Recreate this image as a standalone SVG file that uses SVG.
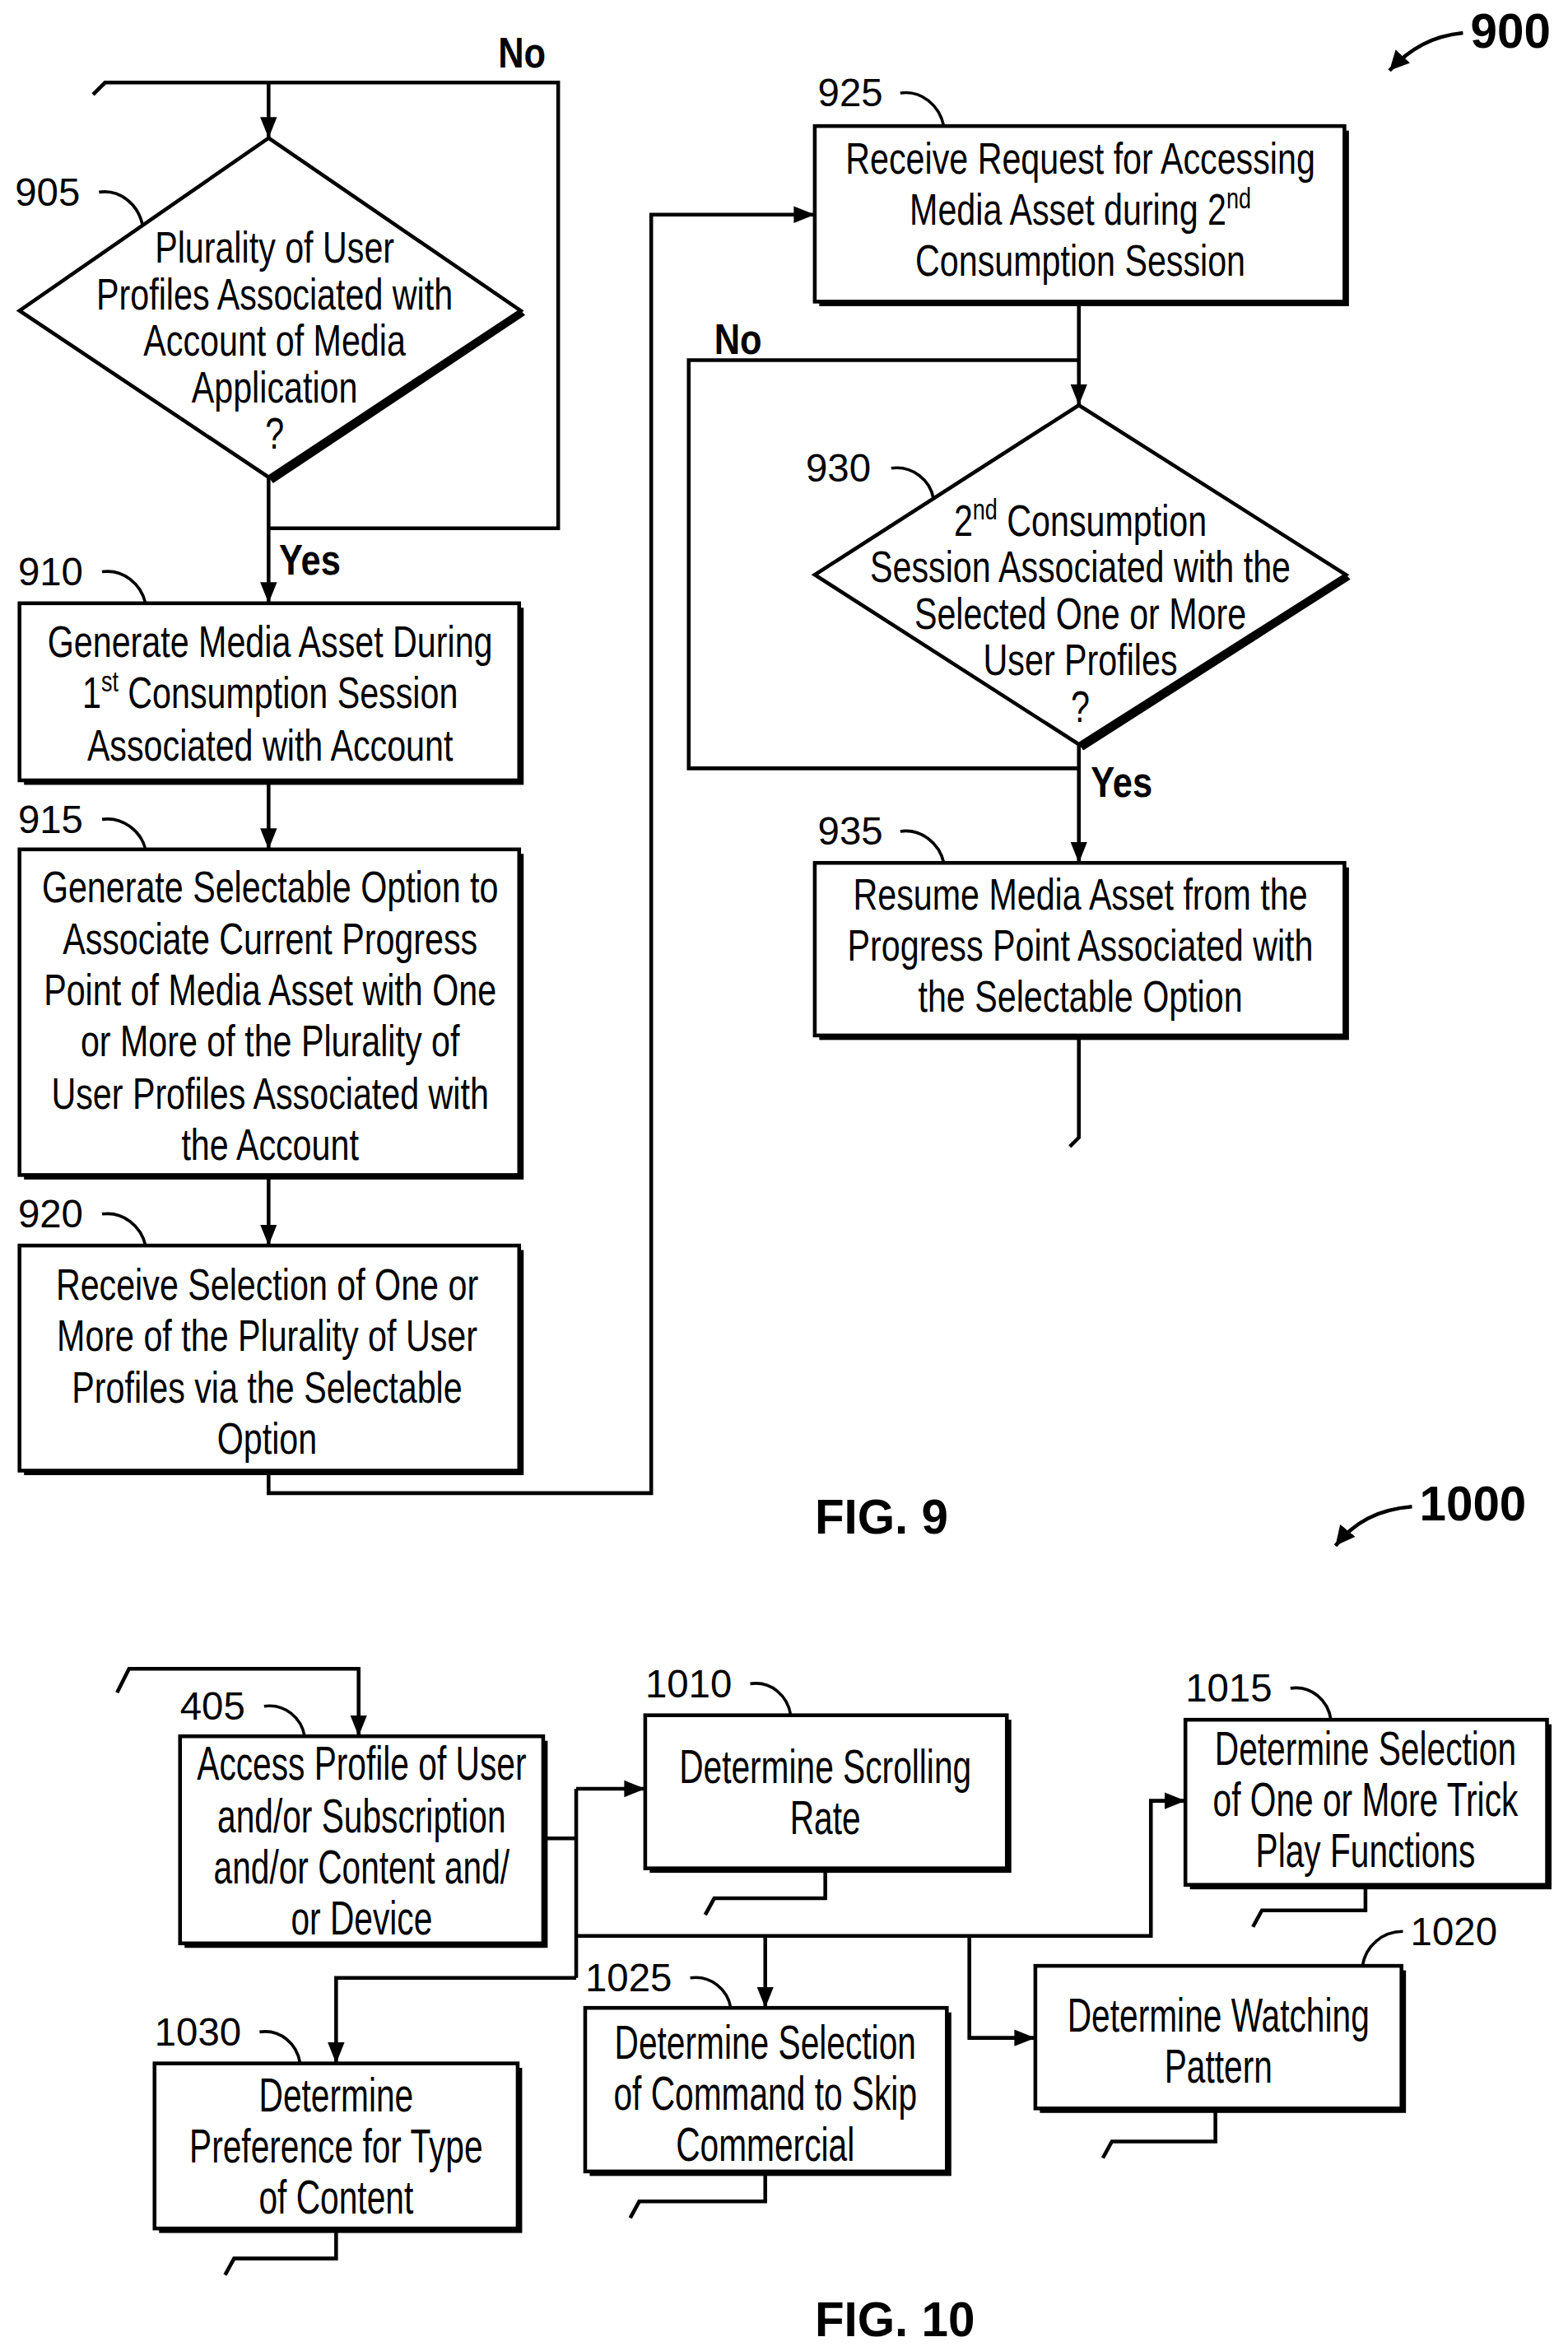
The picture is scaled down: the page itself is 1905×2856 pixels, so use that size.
<svg xmlns="http://www.w3.org/2000/svg" width="1905" height="2856" viewBox="0 0 1905 2856">
<defs>
<marker id="ah" viewBox="0 0 10 10" refX="10" refY="5" markerWidth="13" markerHeight="13" orient="auto" markerUnits="userSpaceOnUse"><path d="M0,0 L10,5 L0,10 z" fill="#000"/></marker>
<marker id="a" viewBox="0 0 10 10" refX="10" refY="5" markerWidth="14" markerHeight="14" orient="auto" markerUnits="userSpaceOnUse"><path d="M0,1 L10,5 L0,9 z" fill="#000"/></marker>
</defs>
<style>
.b{fill:#fff;stroke:#000;stroke-width:2.5}
.s{fill:#000}
.c{fill:none;stroke:#000;stroke-width:2.5}
.t{font-family:"Liberation Sans",Arial,sans-serif;font-size:29px;text-anchor:middle;fill:#000}
.t2{font-family:"Liberation Sans",Arial,sans-serif;font-size:31px;text-anchor:middle;fill:#000}
.n{font-family:"Liberation Sans",Arial,sans-serif;font-size:26px;fill:#000}
.y{font-family:"Liberation Sans",Arial,sans-serif;font-weight:bold;font-size:28px;fill:#000}
.f{font-family:"Liberation Sans",Arial,sans-serif;font-weight:bold;font-size:32px;fill:#000}
.l{fill:none;stroke:#000;stroke-width:2}
</style>
<rect width="1905" height="2856" fill="#fff"/>
<g transform="scale(1.823)">
<g id="connectors">
<path class="c" d="M62,63 L70,55 L372,55 L372,352 L179,352"/>
<path class="c" d="M179,55 L179,92" marker-end="url(#a)"/>
<path class="c" d="M179,318 L179,402" marker-end="url(#a)"/>
<path class="c" d="M179,520 L179,566" marker-end="url(#a)"/>
<path class="c" d="M179,783 L179,830" marker-end="url(#a)"/>
<path class="c" d="M179,980 L179,995 L434,995 L434,143 L543,143" marker-end="url(#a)"/>
<path class="c" d="M719,201 L719,270" marker-end="url(#a)"/>
<path class="c" d="M719,240 L459,240 L459,512 L719,512"/>
<path class="c" d="M719,496 L719,575" marker-end="url(#a)"/>
<path class="c" d="M719,690 L719,758 L713,764"/>
<path class="c" d="M78,1128 L86,1112 L239,1112 L239,1157" marker-end="url(#a)"/>
<path class="c" d="M362,1225 L384,1225"/>
<path class="c" d="M384,1192 L384,1318"/>
<path class="c" d="M384,1192 L430,1192" marker-end="url(#a)"/>
<path class="c" d="M384,1290 L767,1290 L767,1200 L790,1200" marker-end="url(#a)"/>
<path class="c" d="M510,1290 L510,1338" marker-end="url(#a)"/>
<path class="c" d="M646,1290 L646,1358 L690,1358" marker-end="url(#a)"/>
<path class="c" d="M384,1318 L224,1318 L224,1375" marker-end="url(#a)"/>
<path class="c" d="M550,1245 L550,1265 L476,1265 L470,1276"/>
<path class="c" d="M910,1256 L910,1273 L841,1273 L835,1284"/>
<path class="c" d="M224,1485 L224,1505 L156,1505 L150,1516"/>
<path class="c" d="M510,1447 L510,1467 L426,1467 L420,1478"/>
<path class="c" d="M810,1405 L810,1427 L741,1427 L735,1438"/>
</g>
<g id="n905">
<path class="s" d="M179,92 L347,207 L350,210 L182,322 L179,318 z"/>
<path class="b" d="M179,92 L347,207 L179,318 L13,207 z"/>
<text class="t" transform="matrix(0.78 0 0 1 40.26 0)"><tspan x="183" y="175">Plurality of User</tspan><tspan x="183" y="206">Profiles Associated with</tspan><tspan x="183" y="237">Account of Media</tspan><tspan x="183" y="268">Application</tspan><tspan x="183" y="299">?</tspan></text>
<text class="n" x="10" y="137">905</text><path class="l" d="M66,128 C80,126 92,136 95,150"/>
</g>
<g id="n910">
<rect class="s" x="16" y="405" width="333" height="118"/><rect class="b" x="13" y="402" width="333" height="118"/>
<text class="t" transform="matrix(0.78 0 0 1 39.6 0)"><tspan x="180" y="438">Generate Media Asset During</tspan><tspan x="180" y="472">1<tspan font-size="19" dy="-11">st</tspan><tspan dy="11"> Consumption Session</tspan></tspan><tspan x="180" y="507">Associated with Account</tspan></text>
<text class="n" x="12" y="390">910</text><path class="l" d="M68,381 C82,379 94,389 97,402"/>
</g>
<g id="n915">
<rect class="s" x="16" y="569" width="333" height="217"/><rect class="b" x="13" y="566" width="333" height="217"/>
<text class="t" transform="matrix(0.78 0 0 1 39.6 0)"><tspan x="180" y="601">Generate Selectable Option to</tspan><tspan x="180" y="636">Associate Current Progress</tspan><tspan x="180" y="670">Point of Media Asset with One</tspan><tspan x="180" y="704">or More of the Plurality of</tspan><tspan x="180" y="739">User Profiles Associated with</tspan><tspan x="180" y="773">the Account</tspan></text>
<text class="n" x="12" y="555">915</text><path class="l" d="M68,546 C82,544 94,554 97,566"/>
</g>
<g id="n920">
<rect class="s" x="16" y="833" width="333" height="150"/><rect class="b" x="13" y="830" width="333" height="150"/>
<text class="t" transform="matrix(0.78 0 0 1 39.16 0)"><tspan x="178" y="866">Receive Selection of One or</tspan><tspan x="178" y="900">More of the Plurality of User</tspan><tspan x="178" y="935">Profiles via the Selectable</tspan><tspan x="178" y="969">Option</tspan></text>
<text class="n" x="12" y="818">920</text><path class="l" d="M68,809 C82,807 94,817 97,830"/>
</g>
<g id="n925">
<rect class="s" x="546" y="87" width="353" height="117"/><rect class="b" x="543" y="84" width="353" height="117"/>
<text class="t" transform="matrix(0.78 0 0 1 158.4 0)"><tspan x="720" y="116">Receive Request for Accessing</tspan><tspan x="720" y="150">Media Asset during 2<tspan font-size="19" dy="-11">nd</tspan></tspan><tspan x="720" y="184">Consumption Session</tspan></text>
<text class="n" x="545" y="71">925</text><path class="l" d="M600,62 C614,60 626,70 629,84"/>
</g>
<g id="n930">
<path class="s" d="M719,270 L897,383 L900,386 L722,500 L719,496 z"/>
<path class="b" d="M719,270 L897,383 L719,496 L543,383 z"/>
<text class="t" transform="matrix(0.78 0 0 1 158.4 0)"><tspan x="720" y="357">2<tspan font-size="19" dy="-11">nd</tspan><tspan dy="11"> Consumption</tspan></tspan><tspan x="720" y="388">Session Associated with the</tspan><tspan x="720" y="419">Selected One or More</tspan><tspan x="720" y="450">User Profiles</tspan><tspan x="720" y="481">?</tspan></text>
<text class="n" x="537" y="321">930</text><path class="l" d="M594,312 C608,310 620,320 622,332"/>
</g>
<g id="n935">
<rect class="s" x="546" y="578" width="353" height="115"/><rect class="b" x="543" y="575" width="353" height="115"/>
<text class="t" transform="matrix(0.78 0 0 1 158.4 0)"><tspan x="720" y="606">Resume Media Asset from the</tspan><tspan x="720" y="640">Progress Point Associated with</tspan><tspan x="720" y="674">the Selectable Option</tspan></text>
<text class="n" x="545" y="563">935</text><path class="l" d="M600,554 C614,552 626,562 629,575"/>
</g>
<text class="y" x="332" y="45" transform="matrix(0.85 0 0 1 49.8 0)">No</text>
<text class="y" x="186" y="383" transform="matrix(0.85 0 0 1 27.9 0)">Yes</text>
<text class="y" x="476" y="236" transform="matrix(0.85 0 0 1 71.4 0)">No</text>
<text class="y" x="727" y="531" transform="matrix(0.85 0 0 1 109 0)">Yes</text>
<g id="lbl900"><text class="f" x="980" y="32" font-size="26">900</text><path class="c" d="M975,22 C955,24 940,32 926,47" marker-end="url(#ah)"/></g>
<text class="f" x="543" y="1022">FIG. 9</text>
<g id="lbl1000"><text class="f" x="946" y="1013" font-size="26">1000</text><path class="c" d="M941,1004 C918,1006 903,1014 890,1030" marker-end="url(#ah)"/></g>
<g id="n405">
<rect class="s" x="123" y="1160" width="242" height="138"/><rect class="b" x="120" y="1157" width="242" height="138"/>
<text class="t2" transform="matrix(0.72 0 0 1 67.48 0)"><tspan x="241" y="1186">Access Profile of User</tspan><tspan x="241" y="1221">and/or Subscription</tspan><tspan x="241" y="1255">and/or Content and/</tspan><tspan x="241" y="1289">or Device</tspan></text>
<text class="n" x="120" y="1146">405</text><path class="l" d="M176,1137 C190,1135 201,1145 203,1157"/>
</g>
<g id="n1010">
<rect class="s" x="433" y="1146" width="241" height="102"/><rect class="b" x="430" y="1143" width="241" height="102"/>
<text class="t2" transform="matrix(0.72 0 0 1 154 0)"><tspan x="550" y="1188">Determine Scrolling</tspan><tspan x="550" y="1222">Rate</tspan></text>
<text class="n" x="430" y="1131">1010</text><path class="l" d="M500,1122 C514,1120 525,1130 527,1143"/>
</g>
<g id="n1015">
<rect class="s" x="793" y="1149" width="241" height="110"/><rect class="b" x="790" y="1146" width="241" height="110"/>
<text class="t2" transform="matrix(0.72 0 0 1 254.8 0)"><tspan x="910" y="1176">Determine Selection</tspan><tspan x="910" y="1210">of One or More Trick</tspan><tspan x="910" y="1244">Play Functions</tspan></text>
<text class="n" x="790" y="1134">1015</text><path class="l" d="M860,1125 C874,1123 885,1133 887,1146"/>
</g>
<g id="n1020">
<rect class="s" x="693" y="1313" width="244" height="95"/><rect class="b" x="690" y="1310" width="244" height="95"/>
<text class="t2" transform="matrix(0.72 0 0 1 227.36 0)"><tspan x="812" y="1354">Determine Watching</tspan><tspan x="812" y="1388">Pattern</tspan></text>
<text class="n" x="940" y="1296">1020</text><path class="l" d="M935,1287 C921,1287 910,1297 908,1310"/>
</g>
<g id="n1025">
<rect class="s" x="393" y="1341" width="241" height="109"/><rect class="b" x="390" y="1338" width="241" height="109"/>
<text class="t2" transform="matrix(0.72 0 0 1 142.8 0)"><tspan x="510" y="1372">Determine Selection</tspan><tspan x="510" y="1406">of Command to Skip</tspan><tspan x="510" y="1440">Commercial</tspan></text>
<text class="n" x="390" y="1327">1025</text><path class="l" d="M460,1318 C474,1316 485,1326 487,1338"/>
</g>
<g id="n1030">
<rect class="s" x="106" y="1378" width="242" height="110"/><rect class="b" x="103" y="1375" width="242" height="110"/>
<text class="t2" transform="matrix(0.72 0 0 1 62.72 0)"><tspan x="224" y="1407">Determine</tspan><tspan x="224" y="1441">Preference for Type</tspan><tspan x="224" y="1475">of Content</tspan></text>
<text class="n" x="103" y="1363">1030</text><path class="l" d="M173,1354 C187,1352 198,1362 200,1375"/>
</g>
<text class="f" x="543" y="1557">FIG. 10</text>
</g>
</svg>
